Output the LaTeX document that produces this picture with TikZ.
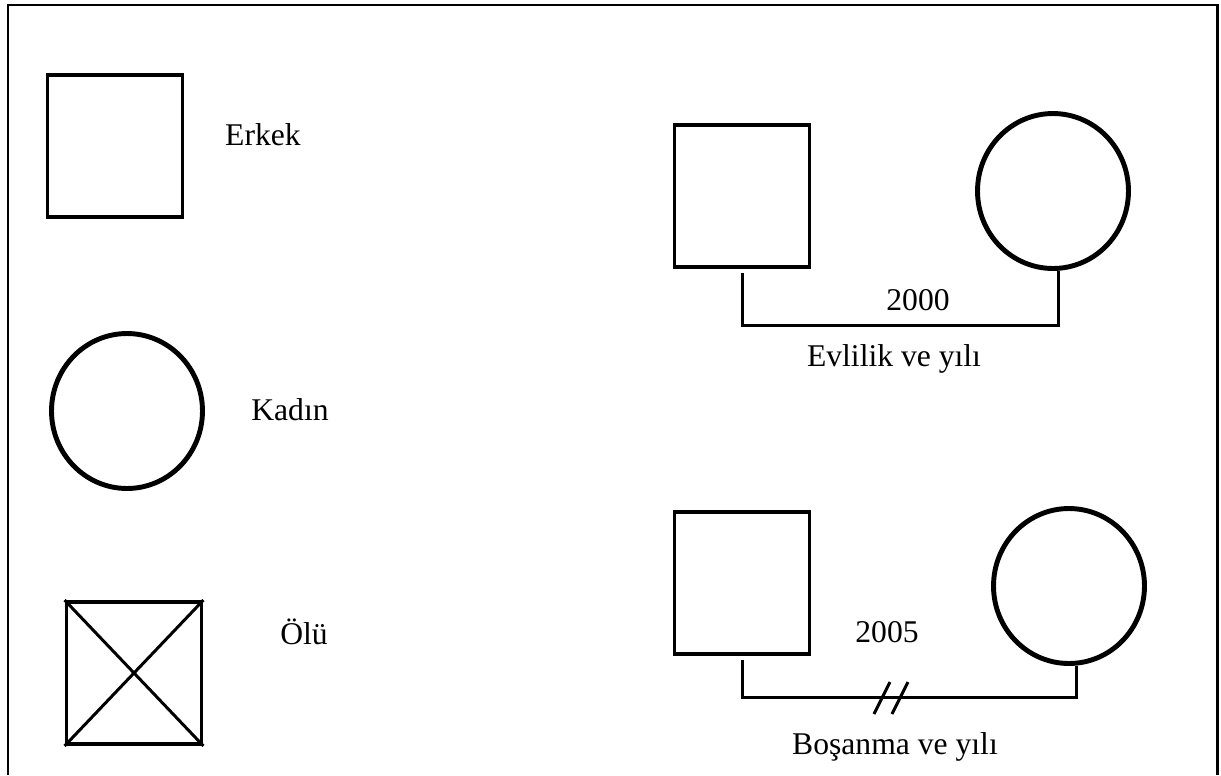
\documentclass[tikz,border=0pt]{standalone}
\usepackage{fontspec}
\setmainfont{Liberation Serif}
\usepackage{tikz}
\usetikzlibrary{shapes.geometric, positioning, calc}

\begin{document}
\begin{tikzpicture}[x=0.02cm, y=-0.02cm,
    erkek/.style={draw, line width=2.2pt, minimum width=2.7cm, minimum height=2.84cm, inner sep=0pt},
    kadin/.style={draw, ellipse, line width=2.8pt, minimum width=3.02cm, minimum height=3.1cm, inner sep=0pt},
    etiket/.style={font=\fontsize{18}{21}\selectfont},
    baglanti/.style={line width=1.7pt}]
      \useasboundingbox (0, 0) rectangle (1221, 775);
      \draw[line width=1.7pt] (8, 775) -- (8, 5) -- (1217, 5) -- (1217, 775);

      \node[erkek] (erkek) at (115, 146) {};
      \node[etiket] (erkekyazi) at (263, 135) {Erkek};

      \node[kadin] (kadin) at (127, 411) {};
      \node[etiket] (kadinyazi) at (290, 410) {Kadın};

      \node[erkek] (olu) at (134, 673) {};
      \draw[baglanti] (olu.north west) -- (olu.south east);
      \draw[baglanti] (olu.south west) -- (olu.north east);
      \node[etiket] (oluyazi) at (304, 632) {Ölü};

      \node[erkek] (eserkek) at (742, 196) {};
      \node[kadin] (eskadin) at (1053, 191) {};
      \draw[baglanti] ([yshift=-0.08cm]eserkek.south) -- ++(0, 53) -| ([xshift=0.1cm]eskadin.south);
      \node[etiket] (evlilikyil) at (918, 300) {2000};
      \node[etiket] (evlilikyazi) at (894, 359) {Evlilik ve yılı};

      \node[erkek] (boserkek) at (742, 583) {};
      \node[kadin] (boskadin) at (1069, 586) {};
      \draw[baglanti] ([yshift=-0.08cm]boserkek.south) -- ++(0, 38) -| ([xshift=0.14cm]boskadin.south);
      \coordinate (kes) at (891, 698);
      \draw[baglanti] ([shift={(-17, 16)}]kes) -- ++(16, -32);
      \draw[baglanti] ([shift={(1, 16)}]kes) -- ++(16, -32);
      \node[etiket] (bosanmayil) at (887, 632) {2005};
      \node[etiket] (bosanmayazi) at (895, 747) {Boşanma ve yılı};
    \end{tikzpicture}
\end{document}
